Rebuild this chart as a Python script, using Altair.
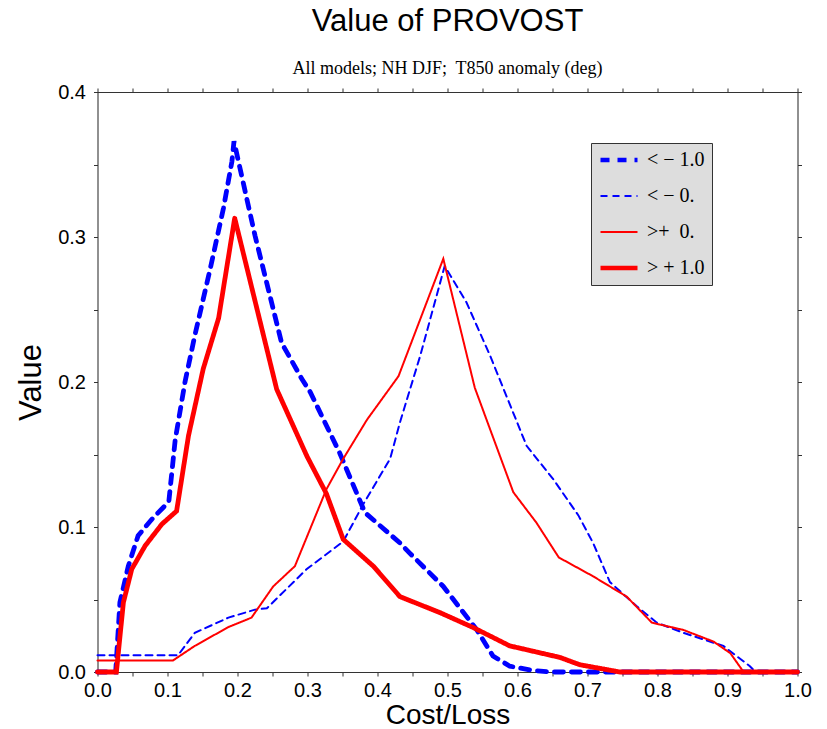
import altair as alt
import pandas as pd

# ---------------- data ----------------
series_labels = ["< − 1.0", "< − 0.", ">+\u00a0 0.", "> + 1.0"]
thick_series = ["< − 1.0", "> + 1.0"]

x_m10 = [0.0, 0.026, 0.032, 0.044, 0.058, 0.077, 0.096, 0.102, 0.111, 0.125, 0.139,
         0.161, 0.180, 0.192, 0.195, 0.225, 0.263, 0.292, 0.304, 0.346, 0.382, 0.432,
         0.446, 0.494, 0.542, 0.565, 0.589, 0.623, 0.650, 1.0]
y_m10 = [0.0, 0.0, 0.048, 0.073, 0.094, 0.105, 0.1145, 0.118, 0.160, 0.200, 0.232,
         0.278, 0.320, 0.352, 0.366, 0.301, 0.227, 0.202, 0.193, 0.151, 0.110, 0.089,
         0.082, 0.059, 0.029, 0.011, 0.004, 0.001, 0.0, 0.0]

x_m0 = [0.0, 0.115, 0.139, 0.187, 0.225, 0.242, 0.299, 0.351, 0.380, 0.418, 0.432,
        0.461, 0.496, 0.527, 0.561, 0.613, 0.651, 0.687, 0.708, 0.732, 0.770, 0.799,
        0.837, 0.894, 0.932, 0.940, 1.0]
y_m0 = [0.0115, 0.0115, 0.027, 0.0375, 0.043, 0.044, 0.071, 0.090, 0.116, 0.147, 0.172,
        0.218, 0.280, 0.255, 0.218, 0.156, 0.133, 0.108, 0.089, 0.062, 0.0455, 0.034,
        0.027, 0.018, 0.004, 0.0, 0.0]

x_p0 = [0.0, 0.108, 0.139, 0.187, 0.220, 0.251, 0.282, 0.327, 0.351, 0.385, 0.430,
        0.494, 0.539, 0.594, 0.627, 0.659, 0.708, 0.756, 0.792, 0.837, 0.880, 0.904,
        0.923, 1.0]
y_p0 = [0.008, 0.008, 0.018, 0.031, 0.0375, 0.059, 0.073, 0.126, 0.147, 0.174, 0.204,
        0.285, 0.196, 0.124, 0.103, 0.079, 0.066, 0.052, 0.034, 0.029, 0.021, 0.013,
        0.0, 0.0]

x_p10 = [0.0, 0.027, 0.037, 0.049, 0.068, 0.092, 0.113, 0.130, 0.151, 0.173, 0.196,
         0.256, 0.299, 0.327, 0.351, 0.394, 0.432, 0.489, 0.537, 0.589, 0.661, 0.689,
         0.746, 1.0]
y_p10 = [0.0, 0.0, 0.048, 0.071, 0.087, 0.102, 0.111, 0.163, 0.209, 0.244, 0.313,
         0.195, 0.149, 0.123, 0.0915, 0.073, 0.052, 0.041, 0.0306, 0.018, 0.010, 0.005,
         0.0, 0.0]

x_ticks = [round(i * 0.05, 2) for i in range(21)]
y_ticks = [round(i * 0.05, 2) for i in range(9)]

# ---------------- table ----------------
rows = []
for lab, xs, ys in zip(series_labels, [x_m10, x_m0, x_p0, x_p10], [y_m10, y_m0, y_p0, y_p10]):
    for i, (a, b) in enumerate(zip(xs, ys)):
        rows.append({"cost_loss": a, "value": b, "series": lab, "i": i})
df = pd.DataFrame(rows)

colors = ["#0000ff", "#0000ff", "#ff0000", "#ff0000"]
dashes = [[9, 8], [7, 5], [1, 0], [1, 0]]

xscale = alt.Scale(domain=[0, 1], nice=False, zero=False)
yscale = alt.Scale(domain=[0, 0.4], nice=False)

label_expr = "round(datum.value * 20) % 2 == 0 ? format(datum.value, '.1f') : ''"

axis_common = dict(grid=False, domainColor="#333333", tickColor="#333333", tickSize=4,
                   labelFont="Liberation Sans", labelFontSize=20, labelColor="black",
                   labelFlush=False, labelOverlap=False,
                   titleFont="Liberation Sans", titleColor="black", titleFontWeight="normal")

legend = alt.Legend(title=None, orient="none", legendX=493.5, legendY=51,
                    fillColor="#dddddd", strokeColor="#333333", padding=7,
                    labelFont="Liberation Serif", labelFontSize=20, labelColor="black",
                    labelExpr="datum.label + '\u00a0\u00a0\u00a0\u00a0\u00a0'",
                    symbolSize=1369, rowPadding=16, labelOffset=18, symbolOffset=11,
                    symbolType="stroke",
                    symbolStrokeWidth=alt.ExprRef("datum.index == 0 || datum.index == 3 ? 4.5 : 2"))

lines = alt.Chart(df).mark_line(strokeCap="round").encode(
    x=alt.X("cost_loss:Q", scale=xscale,
            axis=alt.Axis(values=x_ticks, labelExpr=label_expr, title="Cost/Loss",
                          titleFontSize=28, titleX=350, titleY=51, titleBaseline="alphabetic",
                          labelPadding=4, **axis_common)),
    y=alt.Y("value:Q", scale=yscale,
            axis=alt.Axis(values=y_ticks, labelExpr=label_expr, title="Value",
                          titleFontSize=31, titleX=-57.5, titleY=290, titleAngle=270,
                          titleBaseline="alphabetic", titleAlign="center",
                          labelPadding=8, **axis_common)),
    color=alt.Color("series:N", scale=alt.Scale(domain=series_labels, range=colors), legend=legend),
    strokeDash=alt.StrokeDash("series:N", scale=alt.Scale(domain=series_labels, range=dashes), legend=legend),
    strokeWidth=alt.condition(alt.FieldOneOfPredicate(field="series", oneOf=thick_series),
                              alt.value(4.8), alt.value(2)),
    order="i:Q",
)

frame = alt.Chart(df).mark_point(opacity=0).encode(
    x=alt.X("cost_loss:Q", scale=xscale,
            axis=alt.Axis(orient="top", values=x_ticks, labels=False, title=None, **axis_common)),
    y=alt.Y("value:Q", scale=yscale,
            axis=alt.Axis(orient="right", values=y_ticks, labels=False, title=None, **axis_common)),
)

chart = alt.layer(lines, frame).resolve_axis(x="independent", y="independent").properties(
    width=700, height=580,
    title=alt.Title(text="Value of PROVOST",
                    subtitle="All models; NH DJF;\u00a0 T850 anomaly (deg)",
                    font="Liberation Sans", fontSize=31, fontWeight="normal", color="black",
                    subtitleFont="Liberation Serif", subtitleFontSize=18, subtitleColor="black",
                    subtitlePadding=22, anchor="middle", frame="group", offset=3),
    autosize=alt.AutoSizeParams(type="none"),
    padding={"left": 97.5, "top": 92, "right": 29.5, "bottom": 57},
).configure_view(stroke=None).configure(background="white")

chart.save("out.html", embed_options={"renderer": "svg", "actions": False})
